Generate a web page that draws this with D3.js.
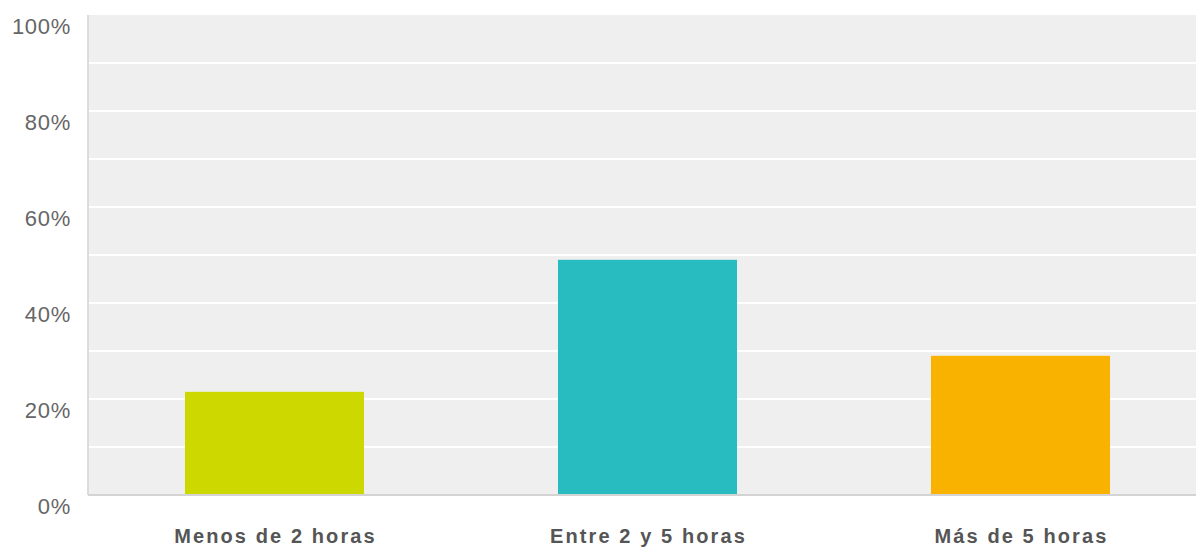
<!DOCTYPE html>
<html><head><meta charset="utf-8">
<script src="https://cdn.jsdelivr.net/npm/d3@7"></script>
<style>
body{margin:0;background:#fff;}
svg{display:block;font-family:"Liberation Sans",Arial,sans-serif;}
</style></head>
<body>
<svg id="chart" width="1196" height="547"></svg>
<script>
const categories = ["Menos de 2 horas", "Entre 2 y 5 horas", "Más de 5 horas"];
const values = [21.5, 49, 29];
const colors = ["#cdd800", "#28bcc0", "#fab200"];
const yTicks = [0, 20, 40, 60, 80, 100];
const gridTicks = [10, 20, 30, 40, 50, 60, 70, 80, 90];

(function () {
const svg = d3.select("#chart");
const mLeft = 88, mTop = 15, mBottom = 495, mRight = 1207;
const x = d3.scaleBand().domain(categories).range([mLeft, mRight]).paddingInner(0.52).paddingOuter(0.26);
const y = d3.scaleLinear().domain([0, 100]).range([mBottom, mTop]);

svg.append("rect").attr("x", mLeft).attr("y", mTop).attr("width", 1196 - mLeft).attr("height", mBottom - mTop).attr("fill", "#efefef");

svg.append("g").selectAll("line").data(gridTicks).join("line")
  .attr("x1", mLeft).attr("x2", 1196).attr("y1", d => y(d)).attr("y2", d => y(d))
  .attr("stroke", "#ffffff").attr("stroke-width", 2);

svg.append("line").attr("x1", mLeft).attr("x2", mLeft).attr("y1", mTop).attr("y2", mBottom)
  .attr("stroke", "#dcdcdc").attr("stroke-width", 2);

svg.append("g").selectAll("rect").data(values).join("rect")
  .attr("x", (d, i) => x(categories[i])).attr("width", x.bandwidth())
  .attr("y", d => y(d)).attr("height", d => mBottom - y(d))
  .attr("fill", (d, i) => colors[i]);

svg.append("line").attr("x1", mLeft).attr("x2", 1196).attr("y1", mBottom).attr("y2", mBottom)
  .attr("stroke", "#d4d4d4").attr("stroke-width", 2);

const yAxis = d3.axisLeft(y).tickValues(yTicks).tickFormat(d => d + "%").tickSize(0).tickPadding(0);
const ya = svg.append("g").attr("transform", "translate(71,18.5)").call(yAxis);
ya.select(".domain").remove();
ya.selectAll("text").attr("dy", "0").attr("font-size", 22).attr("fill", "#666")
  .attr("letter-spacing", "0.7px").attr("font-family", "Liberation Sans, Arial, sans-serif");

const xAxis = d3.axisBottom(x).tickSize(0).tickPadding(0);
const xa = svg.append("g").attr("transform", "translate(1,543)").call(xAxis);
xa.select(".domain").remove();
xa.selectAll("text").attr("dy", "0").attr("font-size", 20).attr("font-weight", "bold").attr("fill", "#555")
  .attr("letter-spacing", "2.1px").attr("font-family", "Liberation Sans, Arial, sans-serif");
})();
</script>
</body></html>
